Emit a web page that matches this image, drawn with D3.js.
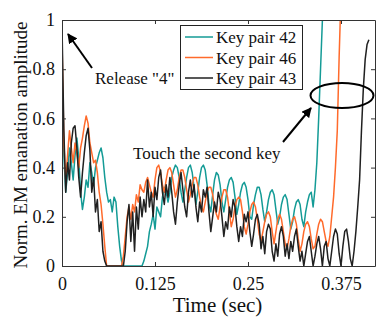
<!DOCTYPE html>
<html>
<head>
<meta charset="utf-8">
<script src="https://cdn.jsdelivr.net/npm/d3@7"></script>
<style>
  html, body { margin: 0; padding: 0; background: #fff; }
  svg { display: block; }
  svg text { font-family: "Liberation Serif", "Times New Roman", Times, serif !important; }
</style>
</head>
<body>
<svg width="377" height="325"></svg>
<script>
// sampling step of the traces (sec)
const dt = 0.0025;

// Key pair 42 (teal)
const pair42 = [
  0.78, 0.45, 0.30, 0.38, 0.48, 0.42, 0.35, 0.45, 0.52, 0.44,
  0.30, 0.23, 0.28, 0.35, 0.32, 0.42, 0.38, 0.33, 0.40, 0.43,
  0.46, 0.48, 0.44, 0.36, 0.30, 0.26, 0.27, 0.22, 0.28, 0.26,
  0.16, 0.08, 0.02, 0, 0, 0, 0, 0, 0, 0,
  0, 0, 0, 0, 0.02, 0.05, 0.08, 0.14, 0.17, 0.21,
  0.15, 0.24, 0.22, 0.20, 0.28, 0.32, 0.30, 0.26, 0.30, 0.36,
  0.39, 0.41, 0.40, 0.36, 0.30, 0.26, 0.31, 0.36, 0.40, 0.41,
  0.38, 0.32, 0.25, 0.30, 0.36, 0.40, 0.41, 0.39, 0.33, 0.25,
  0.22, 0.29, 0.35, 0.38, 0.37, 0.33, 0.26, 0.22, 0.27, 0.32,
  0.35, 0.36, 0.34, 0.28, 0.21, 0.25, 0.30, 0.33, 0.34, 0.32,
  0.27, 0.20, 0.19, 0.25, 0.29, 0.32, 0.32, 0.29, 0.23, 0.18,
  0.22, 0.27, 0.30, 0.31, 0.29, 0.23, 0.17, 0.20, 0.25, 0.28,
  0.29, 0.27, 0.21, 0.15, 0.18, 0.23, 0.26, 0.27, 0.25, 0.19,
  0.16, 0.22, 0.26, 0.29, 0.30, 0.24, 0.31, 0.42, 0.60, 0.80,
  1.00, 1.15
];

// Key pair 46 (orange)
const pair46 = [
  0.92, 0.50, 0.35, 0.45, 0.55, 0.48, 0.42, 0.50, 0.46, 0.40,
  0.48, 0.52, 0.57, 0.61, 0.58, 0.50, 0.46, 0.42, 0.43, 0.38,
  0.30, 0.25, 0.17, 0.08, 0, 0, 0, 0, 0, 0,
  0, 0, 0, 0.04, 0.12, 0.20, 0.24, 0.19, 0.25, 0.22,
  0.29, 0.26, 0.33, 0.31, 0.30, 0.34, 0.36, 0.33, 0.30, 0.28,
  0.35, 0.40, 0.41, 0.38, 0.33, 0.30, 0.35, 0.39, 0.40, 0.38,
  0.33, 0.28, 0.31, 0.36, 0.39, 0.39, 0.36, 0.31, 0.26, 0.29,
  0.33, 0.36, 0.36, 0.33, 0.28, 0.24, 0.22, 0.26, 0.30, 0.32,
  0.32, 0.29, 0.24, 0.21, 0.19, 0.24, 0.28, 0.31, 0.31, 0.28,
  0.22, 0.16, 0.19, 0.24, 0.27, 0.28, 0.27, 0.22, 0.16, 0.13,
  0.17, 0.22, 0.25, 0.26, 0.24, 0.19, 0.13, 0.10, 0.14, 0.18,
  0.21, 0.22, 0.20, 0.14, 0.09, 0.14, 0.19, 0.21, 0.19, 0.14,
  0.09, 0.07, 0.11, 0.16, 0.19, 0.20, 0.17, 0.11, 0.06, 0.09,
  0.14, 0.17, 0.18, 0.16, 0.11, 0.07, 0.08, 0.13, 0.17, 0.19,
  0.18, 0.14, 0.10, 0.08, 0.12, 0.20, 0.28, 0.40, 0.55, 0.85,
  1.10
];

// Key pair 43 (black)
const pair43 = [
  0.98, 0.55, 0.30, 0.42, 0.35, 0.50, 0.56, 0.57, 0.48, 0.36,
  0.28, 0.38, 0.46, 0.53, 0.56, 0.47, 0.30, 0.36, 0.22, 0.27,
  0.14, 0.18, 0.06, 0.02, 0, 0, 0, 0, 0, 0,
  0, 0, 0, 0, 0.06, 0.18, 0.25, 0.10, 0.22, 0.06,
  0.24, 0.15, 0.28, 0.20, 0.27, 0.22, 0.35, 0.24, 0.30, 0.20,
  0.32, 0.27, 0.36, 0.39, 0.30, 0.25, 0.33, 0.28, 0.36, 0.30,
  0.22, 0.17, 0.26, 0.33, 0.38, 0.31, 0.24, 0.20, 0.30, 0.35,
  0.28, 0.33, 0.24, 0.18, 0.26, 0.22, 0.31, 0.28, 0.32, 0.22,
  0.14, 0.20, 0.26, 0.22, 0.30, 0.27, 0.20, 0.12, 0.18, 0.15,
  0.24, 0.20, 0.27, 0.24, 0.16, 0.10, 0.16, 0.12, 0.21, 0.18,
  0.22, 0.14, 0.08, 0.13, 0.19, 0.21, 0.17, 0.07, 0.12, 0.05,
  0.14, 0.17, 0.15, 0.06, 0.02, 0.09, 0.04, 0.13, 0.16, 0.12,
  0.04, 0.09, 0.03, 0.10, 0.06, 0.12, 0.15, 0.08, 0.02, 0.06,
  0, 0.05, 0.10, 0.12, 0.06, 0, 0.04, 0.09, 0.12, 0.07,
  0, 0.08, 0.10, 0.03, 0, 0.06, 0.12, 0.15, 0.13, 0.05,
  0, 0.08, 0.14, 0.15, 0.10, 0.03, 0, 0.06, 0.14, 0.24,
  0.35, 0.55, 0.72, 0.84, 0.90, 0.92
];

const seriesNames = ['Key pair 42', 'Key pair 46', 'Key pair 43'];
const seriesColors = ['#149b96', '#ff6a2b', '#202020'];
const xTicks = [0, 0.125, 0.25, 0.375];
const xTickLabels = ['0', '0.125', '0.25', '0.375'];
const yTicks = [0, 0.2, 0.4, 0.6, 0.8, 1];
const yTickLabels = ['0', '0.2', '0.4', '0.6', '0.8', '1'];

const series = [pair42, pair46, pair43].map((values, k) => ({
  name: seriesNames[k],
  color: seriesColors[k],
  points: values.map((v, i) => [i * dt, v]),
}));

const svg = d3.select('svg');
const margin = { top: 20, right: 2, bottom: 59, left: 62 };
const width = 377 - margin.left - margin.right;
const height = 325 - margin.top - margin.bottom;

const x = d3.scaleLinear().domain([0, 0.4207]).range([0, width]);
const y = d3.scaleLinear().domain([0, 1]).range([height, 0]);

const g = svg.append('g').attr('transform', `translate(${margin.left} ${margin.top})`);

g.append('clipPath').attr('id', 'clip')
  .append('rect').attr('width', width).attr('height', height);

const line = d3.line().x(d => x(d[0])).y(d => y(d[1]));

g.append('g').attr('clip-path', 'url(#clip)')
  .selectAll('path')
  .data(series)
  .join('path')
  .attr('d', d => line(d.points))
  .attr('fill', 'none')
  .attr('stroke', d => d.color)
  .attr('stroke-width', 1.5)
  .attr('stroke-linejoin', 'round');

// axes (box with inward ticks)
const axisColor = '#333';
const fmtX = d => xTickLabels[xTicks.indexOf(d)];
const fmtY = d => yTickLabels[yTicks.indexOf(d)];

const styleAxis = sel => {
  sel.attr('font-family', null);
  sel.select('.domain').attr('stroke', axisColor);
  sel.selectAll('.tick line').attr('stroke', axisColor);
  sel.selectAll('.tick text').attr('fill', '#111').attr('font-size', 18);
};

g.append('g').attr('transform', `translate(0 ${height})`)
  .call(d3.axisBottom(x).tickValues(xTicks).tickFormat(fmtX)
    .tickSizeInner(-4).tickSizeOuter(0).tickPadding(11))
  .call(styleAxis);
g.append('g')
  .call(d3.axisTop(x).tickValues(xTicks).tickFormat('')
    .tickSizeInner(-4).tickSizeOuter(0))
  .call(styleAxis);
g.append('g')
  .call(d3.axisLeft(y).tickValues(yTicks).tickFormat(fmtY)
    .tickSizeInner(-4).tickSizeOuter(0).tickPadding(7))
  .call(styleAxis);
g.append('g').attr('transform', `translate(${width} 0)`)
  .call(d3.axisRight(y).tickValues(yTicks).tickFormat('')
    .tickSizeInner(-4).tickSizeOuter(0))
  .call(styleAxis);

// axis titles
svg.append('text')
  .attr('x', margin.left + width / 2 - 1)
  .attr('y', 312)
  .attr('text-anchor', 'middle')
  .attr('font-size', 21)
  .attr('fill', '#111')
  .text('Time (sec)');

svg.append('text')
  .attr('transform', `translate(27 ${margin.top + height / 2 + 2}) rotate(-90)`)
  .attr('text-anchor', 'middle')
  .attr('font-size', 19)
  .attr('fill', '#111')
  .text('Norm. EM emanation amplitude');

// legend
const legend = svg.append('g');
legend.append('rect')
  .attr('x', 180.5).attr('y', 25.5).attr('width', 122).attr('height', 64)
  .attr('fill', '#fff').attr('stroke', '#222').attr('stroke-width', 1);
const items = legend.selectAll('g.item').data(series).join('g')
  .attr('class', 'item')
  .attr('transform', (d, i) => `translate(0 ${37 + i * 20.5})`);
items.append('line')
  .attr('x1', 185).attr('x2', 213)
  .attr('stroke', d => d.color).attr('stroke-width', 1.5);
items.append('text')
  .attr('x', 216).attr('y', 6)
  .attr('font-size', 17).attr('fill', '#111')
  .text(d => d.name);

// annotations
svg.append('defs').append('marker')
  .attr('id', 'head')
  .attr('viewBox', '0 0 10 10')
  .attr('refX', 9).attr('refY', 5)
  .attr('markerWidth', 5).attr('markerHeight', 5)
  .attr('orient', 'auto')
  .append('path').attr('d', 'M0,0 L10,5 L0,10 z').attr('fill', '#000');

svg.append('line')
  .attr('x1', 92).attr('y1', 68).attr('x2', 68).attr('y2', 34)
  .attr('stroke', '#000').attr('stroke-width', 2)
  .attr('marker-end', 'url(#head)');
svg.append('text')
  .attr('x', 95).attr('y', 84)
  .attr('font-size', 17).attr('fill', '#111')
  .text('Release "4"');

svg.append('line')
  .attr('x1', 283).attr('y1', 142).attr('x2', 311).attr('y2', 108)
  .attr('stroke', '#000').attr('stroke-width', 2)
  .attr('marker-end', 'url(#head)');
svg.append('text')
  .attr('x', 133).attr('y', 159)
  .attr('font-size', 17).attr('fill', '#111')
  .text('Touch the second key');

svg.append('ellipse')
  .attr('cx', 342).attr('cy', 95.5).attr('rx', 31.5).attr('ry', 12.5)
  .attr('fill', 'none').attr('stroke', '#000').attr('stroke-width', 2);
</script>
</body>
</html>
